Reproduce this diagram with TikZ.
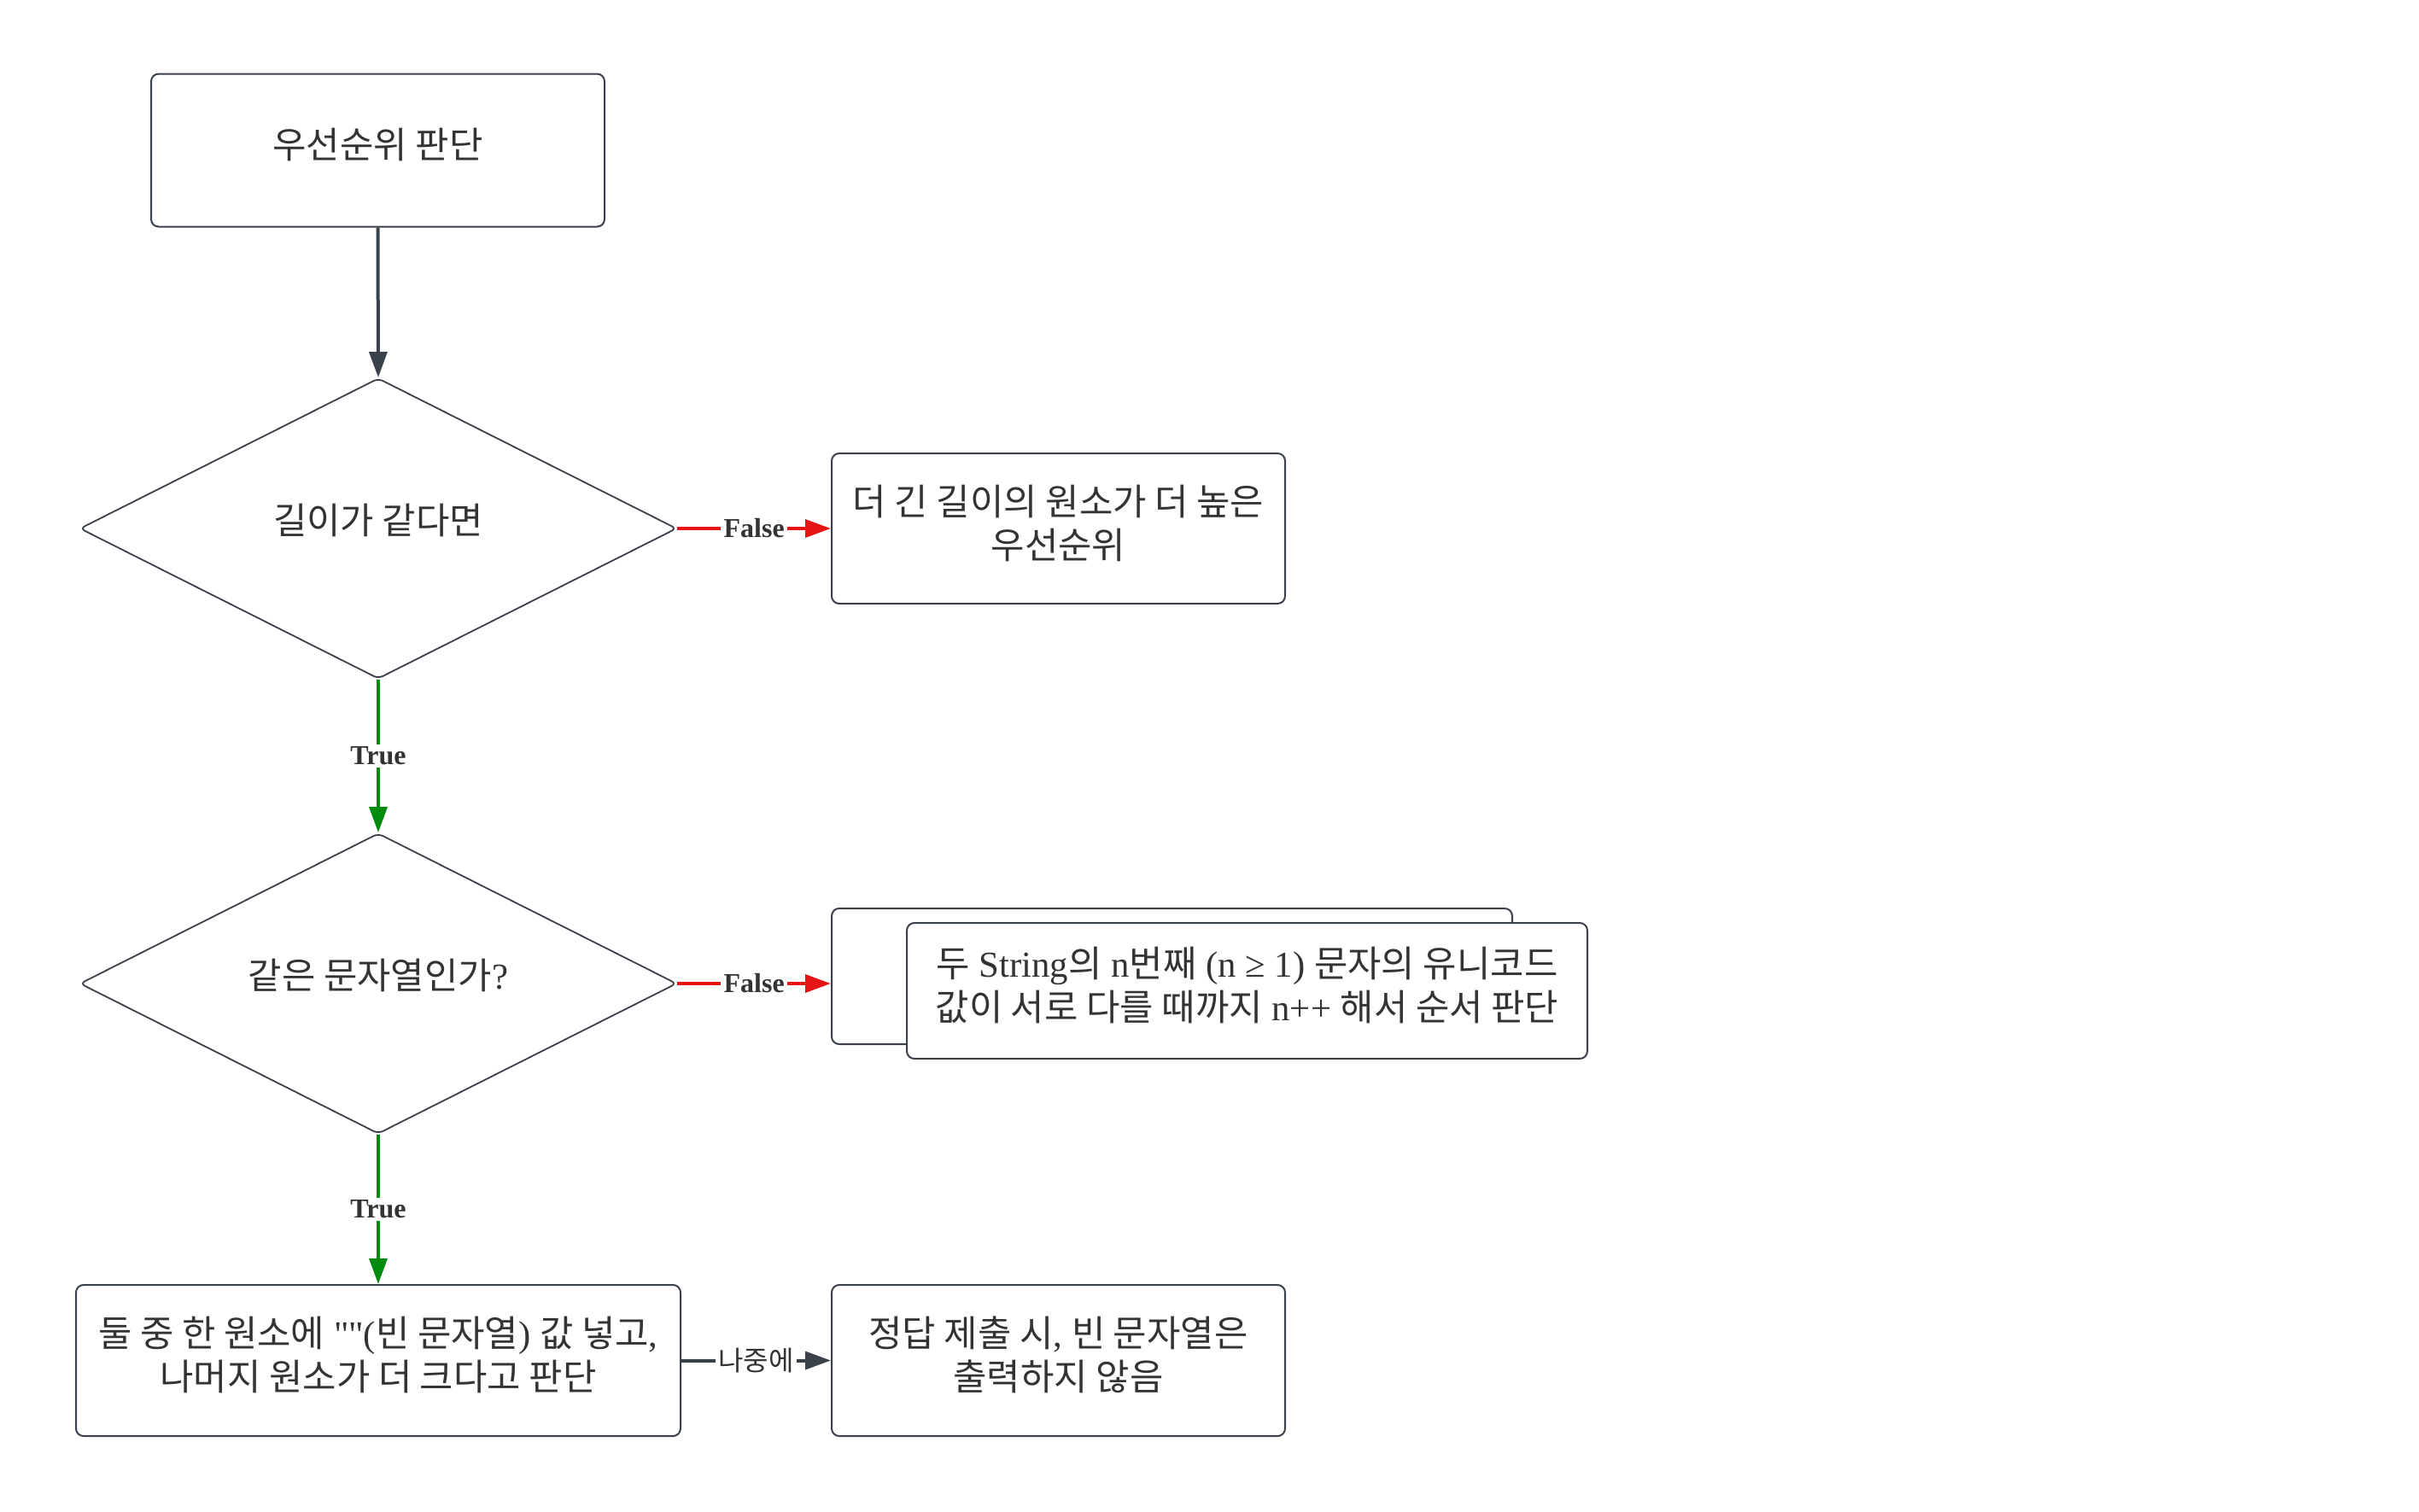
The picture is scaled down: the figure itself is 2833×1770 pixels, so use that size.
\documentclass[tikz,border=0pt]{standalone}
\usepackage{fontspec}
\setmainfont{Liberation Serif}
\newfontfamily\kr{Noto Sans CJK KR}
\newfontfamily\lserif{Liberation Serif}
\usetikzlibrary{shapes.geometric,arrows.meta}
\definecolor{edgec}{HTML}{3A414A}
\definecolor{txtc}{HTML}{333333}
\definecolor{fredc}{HTML}{E81313}
\definecolor{tgreenc}{HTML}{008A0E}
\begin{document}
\begin{tikzpicture}[x=0.25pt,y=-0.25pt,
  box/.style={draw=edgec, line width=0.5pt, rounded corners=2.2pt, fill=white, inner sep=0pt,
    align=center, font=\fontsize{10.7}{12.7}\selectfont, text=txtc, text depth=4pt},
  dia/.style={draw=edgec, line width=0.45pt, diamond, aspect=1.986, minimum width=174.75pt,
    minimum height=88pt, inner sep=0pt, rounded corners=1.5pt, align=center,
    font=\fontsize{10.7}{12.7}\selectfont, text=txtc, text depth=5.5pt},
  conn/.style={line width=1pt, -{Triangle[length=7.5pt,width=5.2pt]}},
  lbl/.style={fill=white, inner sep=0.8pt, font=\bfseries\fontsize{8}{9}\selectfont, text=txtc},
  lblk/.style={fill=white, inner sep=0.8pt, font=\fontsize{8}{9}\selectfont, text=txtc}
]
\useasboundingbox (0,0) rectangle (2833,1770);

\node[box, minimum width=132.75pt, minimum height=44.75pt] (b1) at (442.5,176) {{\kr 우선순위 판단}};
\node[dia] (d1) at (443,619) {{\kr 길이가 같다면}};
\node[box, minimum width=132.75pt, minimum height=44pt] (b2) at (1239.5,619)
  {{\kr 더 긴 길이의 원소가 더 높은}\\{\kr 우선순위}};
\node[dia] (d2) at (443,1152) {{\kr 같은 문자열인가}?};
\node[box, minimum width=199.25pt, minimum height=39.75pt] (b3back) at (1372.5,1143.5) {};
\node[box, minimum width=199.25pt, minimum height=39.75pt] (b3) at (1460.5,1160.5)
  {{\kr 두} String{\kr 의} n{\kr 번째} (n ≥ 1) {\kr 문자의 유니코드}\\{\kr 값이 서로 다를 때까지} n++ {\kr 해서 순서 판단}};
\node[box, minimum width=177pt, minimum height=44.25pt] (b4) at (443,1593.5)
  {{\kr 둘 중 한 원소에} {\lserif ""}({\kr 빈 문자열}) {\kr 값 넣고},\\{\kr 나머지 원소가 더 크다고 판단}};
\node[box, minimum width=132.75pt, minimum height=44.25pt] (b5) at (1239.5,1593.5)
  {{\kr 정답 제출 시}, {\kr 빈 문자열은}\\{\kr 출력하지 않음}};

\draw[conn, edgec] (b1.south) -- (d1.north);
\draw[conn, fredc] (d1.east) -- node[lbl] (f1) {False} (b2.west);
\draw[conn, tgreenc] (d1.south) -- node[lbl] (t1) {True} (d2.north);
\draw[conn, fredc] (d2.east) -- node[lbl] (f2) {False} (b3back.west |- d2.east);
\draw[conn, tgreenc] (d2.south) -- node[lbl] (t2) {True} (b4.north);
\draw[conn, edgec] (b4.east) -- node[lblk] (l1) {{\kr 나중에}} (b5.west);
\end{tikzpicture}
\end{document}
